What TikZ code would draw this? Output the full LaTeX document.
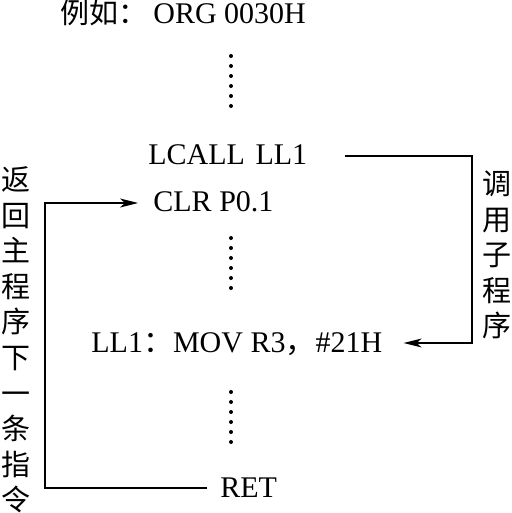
\documentclass[tikz,border=0pt]{standalone}
\usepackage{fontspec}
\setmainfont{Liberation Serif}
\newfontfamily\cjk{Noto Sans CJK SC}
\usetikzlibrary{arrows.meta}

\tikzset{
    code/.style={anchor=base west,inner sep=0pt,text height=9pt,text depth=0pt,
        font=\fontsize{15}{18}\selectfont},
    vtext/.style={inner sep=0pt,align=center,
        font=\cjk\fontsize{14.5}{17.8}\selectfont},
    link/.style={line width=0.6pt},
    arr/.style={link,-{Stealth[length=9pt,width=4.5pt,inset=2.5pt]}}
}

\begin{document}
\begin{tikzpicture}
    [x=0.5pt,y=-0.5pt]
    \useasboundingbox (0,0) rectangle (512,513);
    %program lines
    \node[code] (lizhi) at (60,24) {\cjk\fontsize{14.5}{18}\selectfont 例如：};
    \node[code] (org) at (153,24) {ORG 0030H};
    \node[code] (lcall) at (148,165) {LCALL\hspace{0.35em}LL1};
    \node[code] (clr) at (153,212) {CLR P0.1};
    \node[code] (mov) at (91,352) {LL1{\cjk ：}MOV R3{\cjk ，}\#21H};
    \node[code] (ret) at (220,497) {RET};
    %dots
    \foreach \y in {56,66,...,106}
        \fill (231,\y) circle (1pt);
    \foreach \y in {238,248,...,288}
        \fill (231,\y) circle (1pt);
    \foreach \y in {392,402,...,442}
        \fill (231,\y) circle (1pt);
    %side labels
    \node[vtext] (fanhui) at (16,340) {返\\回\\主\\程\\序\\下\\一\\条\\指\\令};
    \node[vtext] (diaoyong) at (497,255) {调\\用\\子\\程\\序};
    %calls
    \coordinate (lside) at (45,0);
    \coordinate (rside) at (472,0);
    \draw[arr] ([xshift=18.5pt]lcall.east) -| (rside |- mov.east)
        -- ([xshift=10.5pt]mov.east);
    \draw[arr] ([xshift=-6.5pt]ret.west) -| (lside |- clr.west)
        -- ([xshift=-7.5pt]clr.west);
\end{tikzpicture}
\end{document}
